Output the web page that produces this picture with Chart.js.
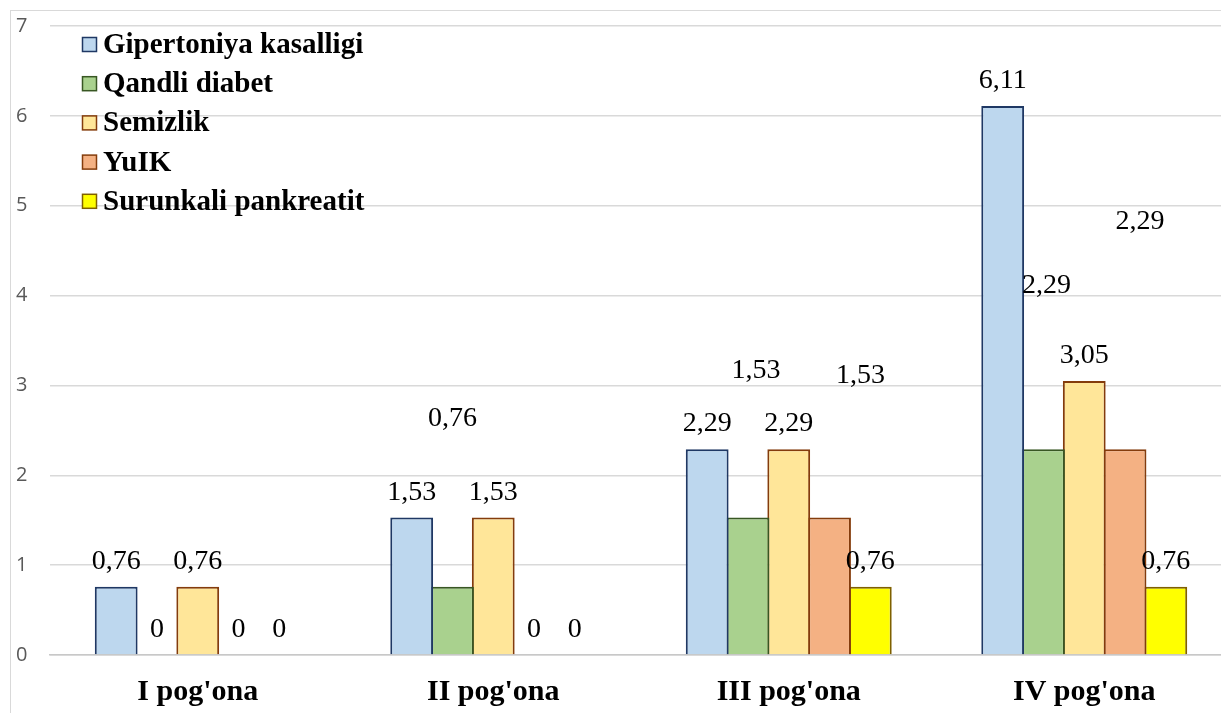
<!DOCTYPE html>
<html>
<head>
<meta charset="utf-8">
<script src="https://cdn.jsdelivr.net/npm/chart.js@4.4.1/dist/chart.umd.min.js"></script>
<style>
  html, body { margin: 0; padding: 0; background: #ffffff; overflow: hidden; width: 1221px; height: 713px; }
  #frame { position: absolute; left: 10px; top: 10px; width: 1300px; height: 800px; border: 1px solid #d9d9d9; box-sizing: border-box; }
  #c { position: absolute; left: 0; top: 0; }
</style>
</head>
<body>
<div id="frame"></div>
<canvas id="c" width="1245" height="713"></canvas>
<script>
// Categories and series (percentages)
const categories = ["I pog'ona", "II pog'ona", "III pog'ona", "IV pog'ona"];
const seriesNames = ["Gipertoniya kasalligi", "Qandli diabet", "Semizlik", "YuIK", "Surunkali pankreatit"];
const gipertoniya = [0.76, 1.53, 2.29, 6.11];
const qandliDiabet = [0, 0.76, 1.53, 2.29];
const semizlik = [0.76, 1.53, 2.29, 3.05];
const yuik = [0, 0, 1.53, 2.29];
const pankreatit = [0, 0, 0.76, 0.76];
const yTicks = [0, 1, 2, 3, 4, 5, 6, 7];

const fills = ["#BDD7EE", "#A9D18E", "#FFE699", "#F4B183", "#FFFF00"];
const strokes = ["#1F3864", "#385723", "#843C0C", "#843C0C", "#7F6000"];
const seriesValues = [gipertoniya, qandliDiabet, semizlik, yuik, pankreatit];

// Hand-placed value labels: pixel nudges per series / category
const labelNudge = [
  [[0,0],[0,0],[0,0],[0,0]],
  [[0,0],[0,-143],[8,-122],[3,-138]],
  [[0,0],[0,0],[0,0],[0,0]],
  [[0,0],[0,0],[31,-117],[15,-202]],
  [[0,0],[0,0],[0,0],[0,0]]
];

function fmt(v) {
  return v === 0 ? "0" : v.toFixed(2).replace(".", ",");
}

const valueLabels = {
  id: "valueLabels",
  afterDatasetsDraw(chart) {
    const ctx = chart.ctx;
    ctx.save();
    ctx.font = "28px 'Liberation Serif', 'Times New Roman', serif";
    ctx.fillStyle = "#000000";
    ctx.textAlign = "center";
    ctx.textBaseline = "alphabetic";
    chart.data.datasets.forEach((ds, di) => {
      const meta = chart.getDatasetMeta(di);
      meta.data.forEach((el, i) => {
        const n = labelNudge[di][i];
        ctx.fillText(fmt(ds.data[i]), el.x + n[0], el.y - 18 + n[1]);
      });
    });
    ctx.restore();
  }
};

const seriesLegend = {
  id: "seriesLegend",
  afterDraw(chart) {
    const ctx = chart.ctx;
    ctx.save();
    ctx.font = "bold 29px 'Liberation Serif', 'Times New Roman', serif";
    ctx.textAlign = "left";
    ctx.textBaseline = "alphabetic";
    chart.data.datasets.forEach((ds, di) => {
      const base = 53 + di * 39.2;
      ctx.fillStyle = ds.backgroundColor;
      ctx.strokeStyle = ds.borderColor;
      ctx.lineWidth = 1.5;
      ctx.fillRect(82.5, base - 15.5, 14, 14);
      ctx.strokeRect(82.5, base - 15.5, 14, 14);
      ctx.fillStyle = "#000000";
      ctx.fillText(ds.label, 103, base);
    });
    ctx.restore();
  }
};

const datasets = seriesNames.map((name, i) => ({
  label: name,
  data: seriesValues[i],
  backgroundColor: fills[i],
  borderColor: strokes[i],
  borderWidth: 2,
  categoryPercentage: 0.69,
  barPercentage: 1.05
}));

new Chart(document.getElementById("c"), {
  type: "bar",
  data: { labels: categories, datasets: datasets },
  options: {
    responsive: false,
    animation: false,
    layout: { padding: { left: 16, right: 13, top: 26, bottom: 0 } },
    plugins: {
      legend: { display: false },
      tooltip: { enabled: false }
    },
    scales: {
      x: {
        grid: { display: false, drawTicks: false },
        border: { display: true, color: "#c8c8c8", width: 1.5 },
        ticks: {
          color: "#000000",
          padding: 19,
          font: { family: "'Liberation Serif', 'Times New Roman', serif", size: 30, weight: "bold" }
        },
        afterFit(scale) { scale.height = 58; }
      },
      y: {
        min: 0,
        max: 7,
        afterBuildTicks(scale) { scale.ticks = yTicks.map(v => ({ value: v })); },
        grid: { color: "#d9d9d9", lineWidth: 1.5, drawTicks: false },
        border: { display: false },
        ticks: {
          color: "#595959",
          crossAlign: "far",
          padding: 0,
          font: { family: "'Open Sans', sans-serif", size: 20 }
        },
        afterFit(scale) { scale.width = 34; }
      }
    }
  },
  plugins: [valueLabels, seriesLegend]
});
</script>
</body>
</html>
